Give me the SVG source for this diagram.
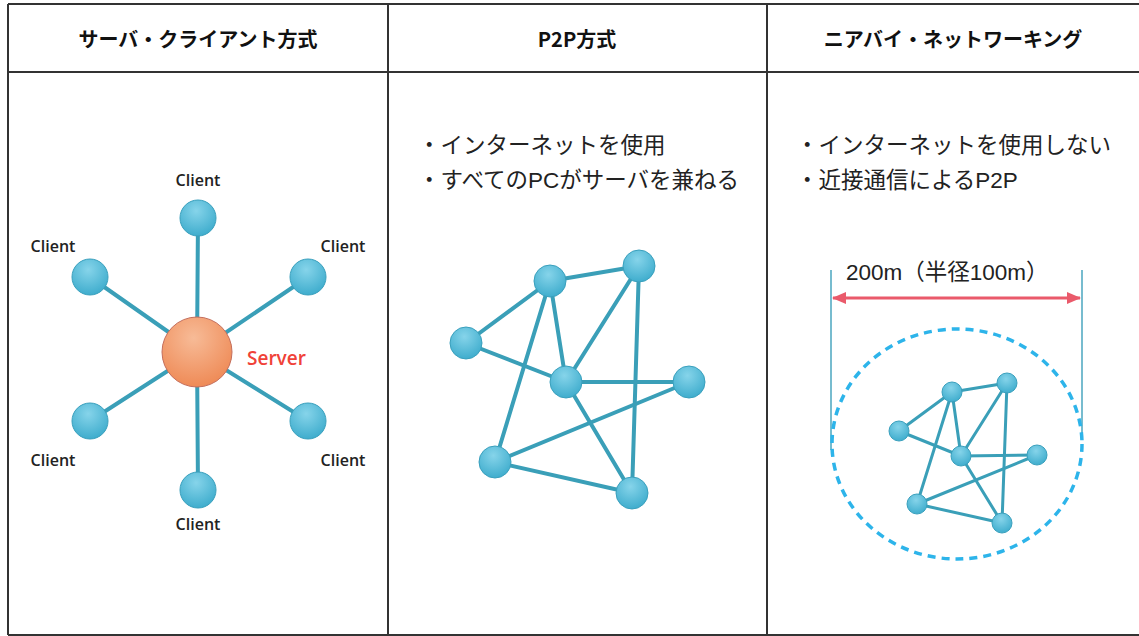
<svg xmlns="http://www.w3.org/2000/svg" width="1139" height="636" viewBox="0 0 1139 636">
<defs>
<radialGradient id="gb" cx="0.45" cy="0.3" r="0.75">
<stop offset="0" stop-color="#86d4ea"/>
<stop offset="1" stop-color="#3aaacb"/>
</radialGradient>
<radialGradient id="go" cx="0.45" cy="0.3" r="0.75">
<stop offset="0" stop-color="#f7bb97"/>
<stop offset="1" stop-color="#ee8752"/>
</radialGradient>
<marker id="ah" viewBox="0 0 14 12" refX="13" refY="6" markerWidth="14" markerHeight="12" markerUnits="userSpaceOnUse" orient="auto-start-reverse">
<path d="M0,0 L14,6 L0,12 z" fill="#ea5a6b"/>
</marker>
<style>
.frame{fill:none;stroke:#333;stroke-width:2}
.hd{font-family:"Noto Sans CJK JP","Liberation Sans",sans-serif;font-weight:bold;font-size:20px;fill:#111;text-anchor:middle}
.bl{font-family:"Liberation Sans","Noto Sans CJK JP",sans-serif;font-size:22.5px;fill:#222}
.cl{font-family:"Open Sans","Liberation Sans",sans-serif;font-size:16px;font-weight:600;fill:#222;text-anchor:middle}
.sv{font-family:"Open Sans","Liberation Sans",sans-serif;font-size:19px;font-weight:600;fill:#f04238}
.e{stroke:#3a9fb8;stroke-width:4;fill:none;stroke-linecap:round}
.es{stroke:#3a9fb8;stroke-width:3;fill:none;stroke-linecap:round}
.n{fill:url(#gb);stroke:#3aa0bd;stroke-width:1}
.dim{stroke:#4aa6bf;stroke-width:1.5}
</style>
</defs>
<rect width="1139" height="636" fill="#fff"/>
<g id="table">
<line class="frame" x1="8" y1="4" x2="1139" y2="4"/>
<line class="frame" x1="8" y1="72" x2="1139" y2="72"/>
<line class="frame" x1="8" y1="635" x2="1139" y2="635"/>
<line class="frame" x1="8" y1="4" x2="8" y2="635"/>
<line class="frame" x1="388" y1="4" x2="388" y2="635"/>
<line class="frame" x1="767" y1="4" x2="767" y2="635"/>
<text class="hd" x="198" y="47">サーバ・クライアント方式</text>
<text class="hd" x="577" y="47">P2P方式</text>
<text class="hd" x="953" y="47" font-size="21">ニアバイ・ネットワーキング</text>
</g>
<g id="connectors">
<line class="e" x1="197" y1="352" x2="198" y2="218"/>
<line class="e" x1="197" y1="352" x2="90" y2="277"/>
<line class="e" x1="197" y1="352" x2="308" y2="277"/>
<line class="e" x1="197" y1="352" x2="90" y2="421"/>
<line class="e" x1="197" y1="352" x2="308" y2="421"/>
<line class="e" x1="197" y1="352" x2="198" y2="490"/>
<line class="e" x1="466" y1="343" x2="550" y2="281"/>
<line class="e" x1="466" y1="343" x2="566" y2="382"/>
<line class="e" x1="550" y1="281" x2="639" y2="266"/>
<line class="e" x1="550" y1="281" x2="566" y2="382"/>
<line class="e" x1="550" y1="281" x2="495" y2="462"/>
<line class="e" x1="639" y1="266" x2="566" y2="382"/>
<line class="e" x1="639" y1="266" x2="632" y2="493"/>
<line class="e" x1="566" y1="382" x2="689" y2="382"/>
<line class="e" x1="566" y1="382" x2="632" y2="493"/>
<line class="e" x1="689" y1="382" x2="495" y2="462"/>
<line class="e" x1="495" y1="462" x2="632" y2="493"/>
<line class="es" x1="899" y1="431" x2="952" y2="392"/>
<line class="es" x1="899" y1="431" x2="961" y2="456"/>
<line class="es" x1="952" y1="392" x2="1007" y2="383"/>
<line class="es" x1="952" y1="392" x2="961" y2="456"/>
<line class="es" x1="952" y1="392" x2="917" y2="504"/>
<line class="es" x1="1007" y1="383" x2="961" y2="456"/>
<line class="es" x1="1007" y1="383" x2="1002" y2="523"/>
<line class="es" x1="961" y1="456" x2="1037" y2="455"/>
<line class="es" x1="961" y1="456" x2="1002" y2="523"/>
<line class="es" x1="1037" y1="455" x2="917" y2="504"/>
<line class="es" x1="917" y1="504" x2="1002" y2="523"/>
</g>
<g id="server-client">
<g id="server"><circle cx="197" cy="352" r="35" fill="url(#go)" stroke="#c46e5c" stroke-width="1"/><text class="sv" x="247" y="365">Server</text></g>
<g id="client-top"><circle class="n" cx="198" cy="218" r="18"/><text class="cl" x="198" y="186">Client</text></g>
<g id="client-ul"><circle class="n" cx="90" cy="277" r="18"/><text class="cl" x="53" y="252">Client</text></g>
<g id="client-ur"><circle class="n" cx="308" cy="277" r="18"/><text class="cl" x="343" y="252">Client</text></g>
<g id="client-ll"><circle class="n" cx="90" cy="421" r="18"/><text class="cl" x="53" y="466">Client</text></g>
<g id="client-lr"><circle class="n" cx="308" cy="421" r="18"/><text class="cl" x="343" y="466">Client</text></g>
<g id="client-bottom"><circle class="n" cx="198" cy="490" r="18"/><text class="cl" x="198" y="530">Client</text></g>
</g>
<g id="p2p">
<text class="bl" x="418" y="153">・インターネットを使用</text>
<text class="bl" x="418" y="188">・すべてのPCがサーバを兼ねる</text>
<g id="p1"><circle class="n" cx="466" cy="343" r="16"/></g>
<g id="p2"><circle class="n" cx="550" cy="281" r="16"/></g>
<g id="p3"><circle class="n" cx="639" cy="266" r="16"/></g>
<g id="p4"><circle class="n" cx="566" cy="382" r="16"/></g>
<g id="p5"><circle class="n" cx="689" cy="382" r="16"/></g>
<g id="p6"><circle class="n" cx="495" cy="462" r="16"/></g>
<g id="p7"><circle class="n" cx="632" cy="493" r="16"/></g>
</g>
<g id="nearby">
<text class="bl" x="796" y="153">・インターネットを使用しない</text>
<text class="bl" x="796" y="188">・近接通信によるP2P</text>
<line class="dim" x1="831" y1="270" x2="831" y2="450"/>
<line class="dim" x1="1082" y1="270" x2="1082" y2="440"/>
<line x1="833" y1="298" x2="1080" y2="298" stroke="#ea5a6b" stroke-width="3" marker-start="url(#ah)" marker-end="url(#ah)"/>
<text class="bl" x="846" y="280">200m（半径100m）</text>
<ellipse cx="957" cy="444" rx="125" ry="115" fill="none" stroke="#2db4ea" stroke-width="3.5" stroke-dasharray="8 6"/>
<g id="n1"><circle class="n" cx="899" cy="431" r="10"/></g>
<g id="n2"><circle class="n" cx="952" cy="392" r="10"/></g>
<g id="n3"><circle class="n" cx="1007" cy="383" r="10"/></g>
<g id="n4"><circle class="n" cx="961" cy="456" r="10"/></g>
<g id="n5"><circle class="n" cx="1037" cy="455" r="10"/></g>
<g id="n6"><circle class="n" cx="917" cy="504" r="10"/></g>
<g id="n7"><circle class="n" cx="1002" cy="523" r="10"/></g>
</g>
</svg>
